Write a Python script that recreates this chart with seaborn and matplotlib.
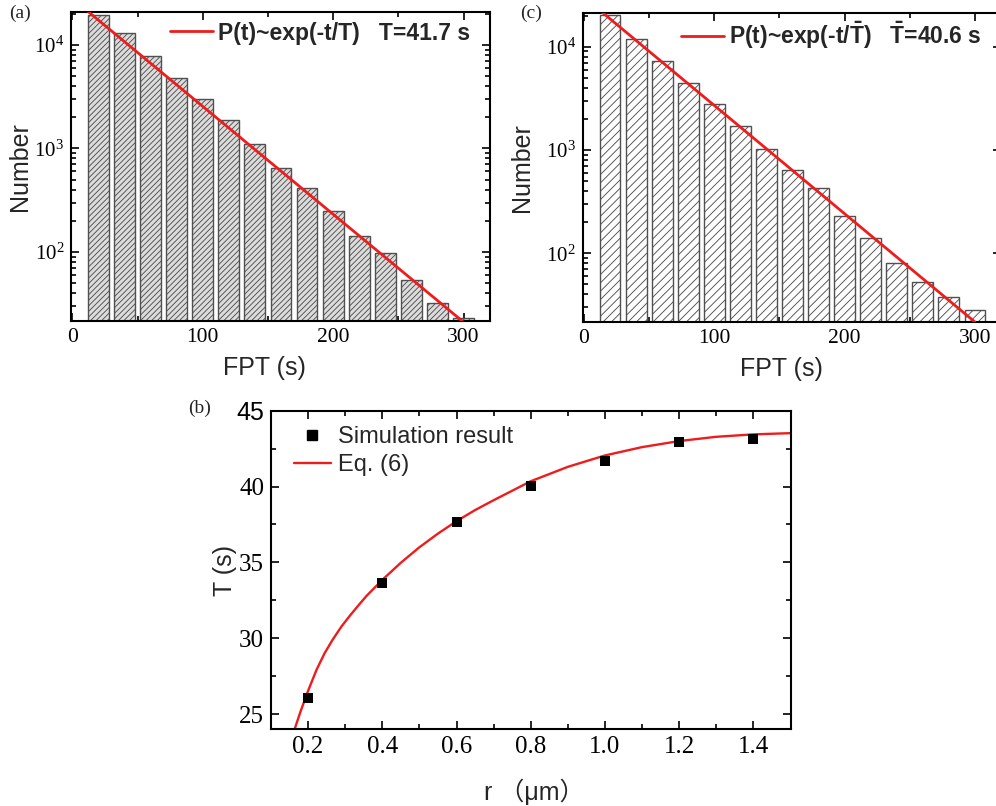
import numpy as np
import pandas as pd
import matplotlib
matplotlib.use("Agg")
import matplotlib.pyplot as plt
import seaborn as sns
from matplotlib.ticker import MultipleLocator, LogLocator, NullFormatter, FormatStrFormatter
from matplotlib.lines import Line2D
from matplotlib.font_manager import FontProperties

# ---------------- data ----------------
fpt_centers = [20, 40, 60, 80, 100, 120, 140, 160, 180, 200, 220, 240, 260, 280, 300]
counts_a = [19500, 13000, 7830, 4800, 2990, 1880, 1100, 651, 417, 246, 143, 97, 53.6, 32.4, 23.2]
counts_c = [20300, 11800, 7280, 4480, 2770, 1710, 1020, 640, 431, 230, 142, 80, 53, 37.5, 28.3]

fit_a_t = [12.5, 299.0]
fit_a_n = [20800, 21.5]
fit_c_t = [14.3, 300.0]
fit_c_n = [21300, 21.6]

r_sim = [0.2, 0.4, 0.6, 0.8, 1.0, 1.2, 1.4]
T_sim = [26.08, 33.64, 37.66, 40.05, 41.69, 42.92, 43.11]

r_eq = [0.16, 0.18, 0.20, 0.223, 0.245, 0.267, 0.29, 0.312, 0.335, 0.357, 0.40, 0.45,
        0.50, 0.55, 0.60, 0.65, 0.70, 0.80, 0.90, 1.00, 1.10, 1.20, 1.30, 1.40, 1.50]
T_eq = [23.74, 25.2, 26.54, 27.94, 29.04, 29.94, 30.78, 31.47, 32.15, 32.78, 33.85, 34.98,
        36.0, 36.9, 37.72, 38.45, 39.1, 40.35, 41.3, 42.05, 42.6, 43.0, 43.28, 43.44, 43.52]

legend_a = "P(t)~exp(-t/T)   T=41.7 s"
legend_c = "P(t)~exp(-t/$\\bar{\\mathrm{T}}$)   $\\bar{\\mathrm{T}}$=40.6 s"

# ---------------- style ----------------
sns.set_theme(style="ticks")
plt.rcParams["font.family"] = ["Liberation Sans", "DejaVu Sans"]
plt.rcParams["mathtext.fontset"] = "custom"
plt.rcParams["mathtext.rm"] = "Liberation Sans:bold"
plt.rcParams["mathtext.bf"] = "Liberation Sans:bold"
plt.rcParams["mathtext.it"] = "Liberation Sans:bold"
plt.rcParams["hatch.linewidth"] = 0.65
plt.rcParams["axes.linewidth"] = 1.5

W, H = 996, 806
fig = plt.figure(figsize=(W / 100, H / 100), dpi=100)


def px_axes(left, right, top, bottom):
    return fig.add_axes([left / W, 1 - bottom / H, (right - left) / W, (bottom - top) / H])


SERIF = "Liberation Serif"
SANS = ["Liberation Sans", "DejaVu Sans"]
RED = "#ee1c1c"


def style_ticks(ax, labelsize):
    ax.tick_params(which="both", direction="in", top=True, right=True,
                   width=1.2, colors="black", labelsize=labelsize,
                   labelfontfamily=SERIF, pad=5)
    ax.tick_params(which="major", length=6)
    ax.tick_params(which="minor", length=3.5)
    for s in ax.spines.values():
        s.set_linewidth(1.5)
        s.set_color("black")


def hist_panel(ax, counts, fit_t, fit_n, face, edge, hatch, label, ylim, leg_xy, xlabel_x, ylabel_x):
    sns.barplot(x=fpt_centers, y=counts, native_scale=True, orient="x", ax=ax,
                width=0.8, color=face, saturation=1, edgecolor=edge,
                linewidth=1.0, hatch=hatch, zorder=2)
    sns.lineplot(x=fit_t, y=fit_n, ax=ax, color=RED, lw=2.0, sort=False, zorder=3)
    ax.set_yscale("log")
    ax.set_xlim(-1, 320)
    ax.set_ylim(*ylim)
    ax.xaxis.set_major_locator(MultipleLocator(100))
    ax.xaxis.set_minor_locator(MultipleLocator(50))
    ax.yaxis.set_major_locator(LogLocator(base=10))
    ax.yaxis.set_minor_locator(LogLocator(base=10, subs=np.arange(2, 10)))
    ax.yaxis.set_minor_formatter(NullFormatter())
    style_ticks(ax, 15.5)
    ax.tick_params(axis="y", which="both", labelsize=15)
    ax.set_xlabel("FPT (s)", fontsize=18, family=SANS)
    ax.set_ylabel("Number", fontsize=18, family=SANS)
    ax.xaxis.set_label_coords(xlabel_x, -0.114)
    ax.yaxis.set_label_coords(ylabel_x, 0.5)
    h = [Line2D([0], [0], color=RED, lw=2.0)]
    ax.legend(h, [label], loc="center left", bbox_to_anchor=leg_xy, frameon=False,
              borderpad=0, borderaxespad=0, handlelength=1.85, handletextpad=0.22,
              prop=FontProperties(family=SANS, weight="bold", size=16.5))


ax_a = px_axes(71, 489.6, 12, 321)
hist_panel(ax_a, counts_a, fit_a_t, fit_a_n, "#dcdcdc", "#505050", "//////", legend_a,
           (21.5, 20800), (0.237, 0.932), 0.463, -0.093)

ax_c = px_axes(582.7, 1001, 12.7, 322)
hist_panel(ax_c, counts_c, fit_c_t, fit_c_n, "white", "#505050", "////", legend_c,
           (21.6, 21300), (0.236, 0.928), 0.476, -0.117)

# ---------------- panel (b) ----------------
ax_b = px_axes(271, 790.5, 410.7, 729.3)
sns.lineplot(x=r_eq, y=T_eq, ax=ax_b, color=RED, lw=1.7, sort=False, zorder=2)
sns.scatterplot(x=r_sim, y=T_sim, ax=ax_b, marker="s", s=60, color="black",
                edgecolor="black", linewidth=0, zorder=3)
ax_b.set_xlim(0.1, 1.5)
ax_b.set_ylim(24, 45)
ax_b.xaxis.set_major_locator(MultipleLocator(0.2))
ax_b.xaxis.set_minor_locator(MultipleLocator(0.1))
ax_b.xaxis.set_major_formatter(FormatStrFormatter("%.1f"))
ax_b.set_yticks([25, 30, 35, 40, 45])
ylabels_b = ax_b.set_yticklabels(["25", "30", "35", "40", "45"])
ax_b.yaxis.set_minor_locator(MultipleLocator(2.5))
style_ticks(ax_b, 18)
for t in ax_b.get_yticklabels():
    t.set_fontfamily(SERIF)
ylabels_b[-1].set_fontfamily("Liberation Sans")
ax_b.set_xlabel("r \uff08\u03bcm\uff09", fontsize=18,
                family=["Liberation Sans", "Noto Sans CJK SC", "DejaVu Sans"])
ax_b.set_ylabel("T (s)", fontsize=18, family=SANS)
ax_b.xaxis.set_label_coords(0.506, -0.155)
ax_b.yaxis.set_label_coords(-0.066, 0.5)
hb = [Line2D([0], [0], marker="s", color="black", ls="none", markersize=7.5),
      Line2D([0], [0], color=RED, lw=1.7)]
ax_b.legend(hb, ["Simulation result", "Eq. (6)"], loc="center left",
            bbox_to_anchor=(0.0435, 0.873), frameon=False, borderpad=0,
            borderaxespad=0, handlelength=1.6, handletextpad=0.28, labelspacing=0.25,
            prop=FontProperties(family=SANS, size=17))

# ---------------- panel labels ----------------
for txt, (x, y) in {"(a)": (20, 13), "(c)": (531, 13), "(b)": (200, 408)}.items():
    fig.text(x / W, 1 - y / H, txt, ha="center", va="center", fontsize=14, family=SERIF)

fig.savefig("out.png", dpi=100)
